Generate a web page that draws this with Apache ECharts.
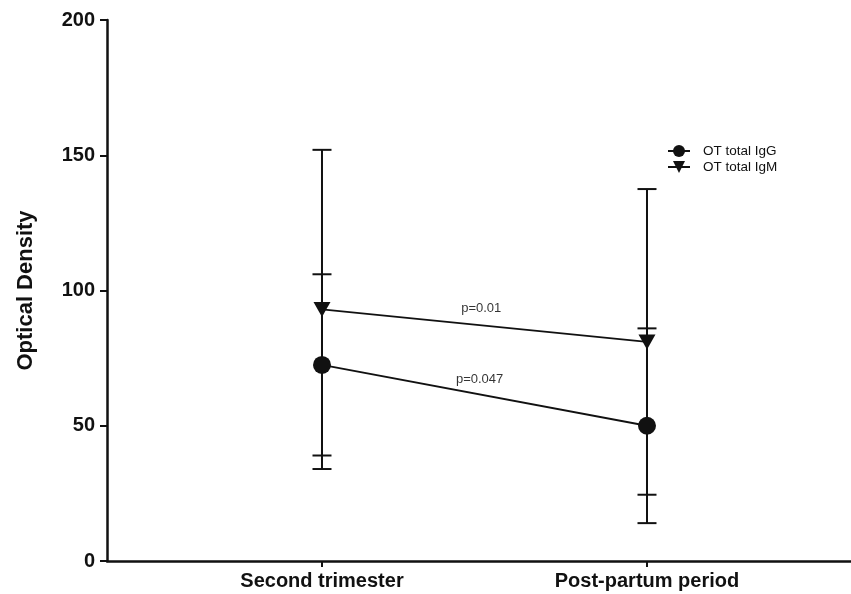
<!DOCTYPE html>
<html>
<head>
<meta charset="utf-8">
<script src="https://cdn.jsdelivr.net/npm/echarts@6/dist/echarts.min.js"></script>
<style>
  html, body { margin: 0; padding: 0; background: #fff; }
  #chart { width: 851px; height: 594px; }
</style>
</head>
<body>
<div id="chart"></div>
<script>
// Time points along the x axis
const categories = ['Second trimester', 'Post-partum period'];

// Mean optical density and error (± SD) per time point
const igGMean = [72.5, 50];
const igGErr = [33.5, 36];
const igMMean = [93, 81];
const igMErr = [59, 56.5];

// Y axis ticks
const yTicks = [0, 50, 100, 150, 200];

// Significance annotations: [x position (category index), y value, text]
const pLabels = [
  [0.49, 93.5, 'p=0.01'],
  [0.485, 67, 'p=0.047']
];

const boldFont = '"Liberation Sans Narrow", "Arial Narrow", Arial, "Liberation Sans", sans-serif';
const plainFont = 'Arial, "Liberation Sans", Helvetica, sans-serif';

function meanPoints(means) {
  return means.map((v, i) => [i, v]);
}
function errorData(means, errs) {
  return means.map((v, i) => [i, v - errs[i], v + errs[i]]);
}

function renderErrorBar(params, api) {
  const x = api.value(0);
  const lo = api.coord([x, api.value(1)]);
  const hi = api.coord([x, api.value(2)]);
  const half = 9.5;
  const style = { stroke: '#111111', lineWidth: 2, fill: null };
  return {
    type: 'group',
    children: [
      { type: 'line', shape: { x1: lo[0], y1: lo[1], x2: hi[0], y2: hi[1] }, style },
      { type: 'line', shape: { x1: lo[0] - half, y1: lo[1], x2: lo[0] + half, y2: lo[1] }, style },
      { type: 'line', shape: { x1: hi[0] - half, y1: hi[1], x2: hi[0] + half, y2: hi[1] }, style }
    ]
  };
}

const chart = echarts.init(document.getElementById('chart'), null, { renderer: 'canvas' });

chart.setOption({
  animation: false,
  backgroundColor: '#ffffff',
  grid: { left: 107, right: 0, top: 20, bottom: 33, containLabel: false },
  legend: {
    orient: 'vertical',
    left: 662,
    top: 139,
    itemGap: 2,
    itemWidth: 22,
    itemHeight: 15,
    textStyle: { fontFamily: plainFont, fontSize: 13.5, color: '#111111', padding: [0, 0, 0, 8] },
    data: ['OT total IgG', 'OT total IgM']
  },
  xAxis: {
    type: 'value',
    min: -0.6615,
    max: 1.6277,
    splitLine: { show: false },
    axisLine: { show: true, onZero: false, lineStyle: { color: '#111111', width: 2.5 } },
    axisTick: { show: true, customValues: [0, 1], length: 6, lineStyle: { color: '#111111', width: 2 } },
    axisLabel: {
      customValues: [0, 1],
      formatter: v => categories[Math.round(v)] || '',
      margin: 10,
      fontFamily: boldFont,
      fontWeight: 'bold',
      fontSize: 20,
      color: '#111111'
    }
  },
  yAxis: {
    type: 'value',
    min: yTicks[0],
    max: yTicks[yTicks.length - 1],
    interval: 50,
    name: 'Optical Density',
    nameLocation: 'middle',
    nameGap: 70,
    nameTextStyle: { fontFamily: boldFont, fontWeight: 'bold', fontSize: 22, color: '#111111' },
    splitLine: { show: false },
    axisLine: { show: true, onZero: false, lineStyle: { color: '#111111', width: 2.5 } },
    axisTick: { show: true, length: 7, lineStyle: { color: '#111111', width: 2 } },
    axisLabel: {
      margin: 12,
      fontFamily: boldFont,
      fontWeight: 'bold',
      fontSize: 20,
      color: '#111111'
    }
  },
  series: [
    {
      name: 'IgG error',
      type: 'custom',
      renderItem: renderErrorBar,
      data: errorData(igGMean, igGErr),
      z: 1
    },
    {
      name: 'IgM error',
      type: 'custom',
      renderItem: renderErrorBar,
      data: errorData(igMMean, igMErr),
      z: 1
    },
    {
      name: 'OT total IgG',
      type: 'line',
      data: meanPoints(igGMean),
      symbol: 'circle',
      symbolSize: 18,
      lineStyle: { color: '#111111', width: 1.8 },
      itemStyle: { color: '#111111' },
      z: 3
    },
    {
      name: 'OT total IgM',
      type: 'line',
      data: meanPoints(igMMean),
      symbol: 'triangle',
      symbolRotate: 180,
      symbolSize: [17, 15],
      lineStyle: { color: '#111111', width: 1.8 },
      itemStyle: { color: '#111111' },
      z: 3
    },
    {
      name: 'p values',
      type: 'scatter',
      symbolSize: 0,
      data: pLabels.map(p => ({ value: [p[0], p[1]], text: p[2] })),
      label: {
        show: true,
        position: 'inside',
        formatter: p => p.data.text,
        fontFamily: plainFont,
        fontSize: 13,
        color: '#000000'
      },
      silent: true,
      z: 4
    }
  ]
});
</script>
</body>
</html>
